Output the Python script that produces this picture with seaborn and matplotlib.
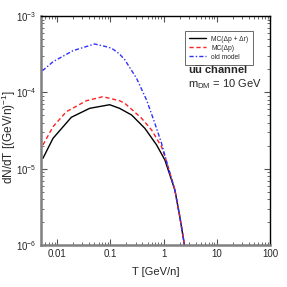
import numpy as np
import pandas as pd
import matplotlib
matplotlib.use("Agg")
import matplotlib.pyplot as plt
import seaborn as sns
from matplotlib.ticker import LogLocator, FixedLocator, FixedFormatter, NullFormatter

# ---- data ----
T_black = [0.00543, 0.00838, 0.0185, 0.041, 0.097, 0.149, 0.251, 0.446, 0.74, 1.06, 1.63, 2.02, 2.44, 2.6]
v_black = [1.37e-5, 2.50e-5, 4.72e-5, 6.19e-5, 6.9e-5, 6.19e-5, 5.06e-5, 3.38e-5, 2.05e-5, 1.30e-5, 5.26e-6, 2.35e-6, 1.05e-6, 1e-7]

T_red = [0.00543, 0.00838, 0.0149, 0.0355, 0.0727, 0.149, 0.188, 0.387, 0.596, 0.917, 1.14, 1.63, 2.02, 2.44, 2.6]
v_red = [2.05e-5, 3.55e-5, 5.58e-5, 7.78e-5, 8.79e-5, 7.78e-5, 7.19e-5, 4.58e-5, 3.22e-5, 1.94e-5, 1.24e-5, 5.26e-6, 2.35e-6, 1.05e-6, 1e-7]

T_blue = [0.0053, 0.00838, 0.0199, 0.0507, 0.084, 0.106, 0.149, 0.188, 0.311, 0.48, 0.687, 0.917, 1.14, 1.63, 2.02, 2.44, 2.6]
v_blue = [1.92e-4, 2.52e-4, 3.52e-4, 4.31e-4, 3.97e-4, 3.79e-4, 3.19e-4, 2.66e-4, 1.53e-4, 7.94e-5, 3.93e-5, 2.15e-5, 1.24e-5, 5.26e-6, 2.35e-6, 1.05e-6, 1e-7]

labels = ["MC(Δp + Δr)", "MC(Δp)", "old model"]
x_ticks = [0.01, 0.1, 1, 10, 100]
x_ticklabels = ["0.01", "0.1", "1", "10", "100"]

sns.set_theme(style="ticks")
plt.rcParams['font.family'] = ['Liberation Sans', 'DejaVu Sans']
plt.rcParams['mathtext.fontset'] = 'custom'
plt.rcParams['mathtext.rm'] = 'Liberation Sans'
plt.rcParams['mathtext.it'] = 'Liberation Sans:italic'
plt.rcParams['mathtext.bf'] = 'Liberation Sans:bold'

fig = plt.figure(figsize=(2.87, 2.87), dpi=100)
ax = fig.add_axes([0.143, 0.146, 0.798, 0.798])

df_b = pd.DataFrame({"T": T_black, "v": v_black})
df_r = pd.DataFrame({"T": T_red, "v": v_red})
df_u = pd.DataFrame({"T": T_blue, "v": v_blue})

sns.lineplot(data=df_b, x="T", y="v", ax=ax, color="black", lw=1.0, label=labels[0])
sns.lineplot(data=df_r, x="T", y="v", ax=ax, color="#ff2020", lw=1.0, label=labels[1])
ax.lines[-1].set_dashes((3, 2))
sns.lineplot(data=df_u, x="T", y="v", ax=ax, color="#3030ff", lw=1.0, label=labels[2])
ax.lines[-1].set_dashes((3, 1.5, 1, 1.5))

ax.set_xscale("log")
ax.set_yscale("log")
ax.set_xlim(0.005, 100)
ax.set_ylim(1e-6, 1e-3)

ax.xaxis.set_major_locator(FixedLocator(x_ticks))
ax.xaxis.set_major_formatter(FixedFormatter(x_ticklabels))
ax.xaxis.set_minor_locator(LogLocator(base=10, subs=np.arange(2, 10), numticks=20))
ax.xaxis.set_minor_formatter(NullFormatter())
ax.yaxis.set_major_locator(LogLocator(base=10, numticks=10))
ax.yaxis.set_minor_locator(LogLocator(base=10, subs=np.arange(2, 10), numticks=20))
ax.yaxis.set_minor_formatter(NullFormatter())

ax.tick_params(which="both", direction="in", top=True, right=True, labelsize=7, color="#555555")
ax.tick_params(which="major", length=4, width=0.8, pad=3)
ax.tick_params(which="minor", length=2, width=0.6)

for s in ["left", "bottom"]:
    ax.spines[s].set_color("#808080")
    ax.spines[s].set_linewidth(1.8)
for s in ["top", "right"]:
    ax.spines[s].set_color("black")
    ax.spines[s].set_linewidth(1.0)

ax.set_xlabel("T [GeV/n]", fontsize=8)
ax.xaxis.set_label_coords(0.5, -0.095)
ax.xaxis.label.set_va("top")
ax.set_ylabel("dN/dT [(GeV/n)$^{-1}$]", fontsize=8.5)
ax.yaxis.set_label_coords(-0.10, 0.47)

leg = ax.legend(loc="upper right", bbox_to_anchor=(0.94, 0.95), fontsize=4.8,
                frameon=True, fancybox=False, edgecolor="#444444", handlelength=2.5,
                borderpad=0.7, labelspacing=0.3, handletextpad=0.8)
leg.get_frame().set_linewidth(0.7)

ax.text(0.642, 0.765, r"$\mathbf{u\overline{u}}$ channel", transform=ax.transAxes, fontsize=8,
        fontweight="bold", va="center", ha="left")
ax.text(0.642, 0.703, r"m$_{\rm DM}$ = 10 GeV", transform=ax.transAxes, fontsize=8,
        va="center", ha="left")

fig.savefig("out.png", dpi=100)
